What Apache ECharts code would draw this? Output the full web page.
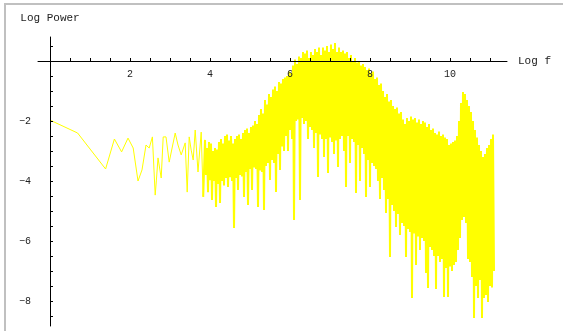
<!DOCTYPE html>
<html>
<head>
<meta charset="utf-8">
<script src="https://cdn.jsdelivr.net/npm/echarts@6/dist/echarts.min.js"></script>
<style>
  html, body { margin: 0; padding: 0; background: #fff; }
  #main { width: 563px; height: 331px; }
</style>
</head>
<body>
<div id="main"></div>
<script>
// low frequencies: one point per bin (log f, log power)
var sparseLogF = [0, 0.69, 1.39, 1.61, 1.79, 1.95, 2.08, 2.2, 2.3, 2.4, 2.48, 2.56, 2.63, 2.66, 2.7,
    2.78, 2.83, 2.9, 2.98, 3.13, 3.2, 3.28, 3.38, 3.43, 3.48, 3.53, 3.58, 3.63, 3.7, 3.78, 3.83];
var sparsePower = [-1.97, -2.4, -3.6, -2.6, -3.03, -2.57, -2.9, -4.0, -3.63, -2.8, -2.9, -2.53, -4.47, -3.97, -3.23,
    -3.9, -2.53, -2.53, -3.37, -2.4, -2.8, -3.13, -2.73, -4.37, -2.53, -2.97, -3.3, -2.3, -3.7, -2.37, -4.53];

// high frequencies: dense part on a regular log f grid
var denseStart = 3.875;
var denseStep = 0.025;
var densePower = [
    -2.63, -3.8, -2.9, -4.37, -2.7, -3.97, -2.75, -4.63, -3.0, -4.0,
    -2.9, -4.87, -2.95, -4.1, -2.7, -4.73, -2.6, -4.0, -2.75, -4.15,
    -2.5, -3.9, -2.45, -4.2, -2.65, -3.87, -2.5, -4.0, -2.75, -5.57,
    -2.6, -3.9, -2.5, -4.3, -2.45, -3.8, -2.6, -3.85, -2.4, -4.53,
    -2.3, -3.7, -2.25, -4.8, -2.4, -3.6, -2.2, -4.3, -2.15, -3.55,
    -2.0, -3.6, -2.1, -4.87, -1.8, -3.65, -1.6, -3.7, -1.75, -4.97,
    -1.3, -3.5, -1.45, -3.4, -1.1, -3.97, -1.2, -3.3, -0.95, -3.4,
    -0.85, -4.37, -1.0, -3.1, -0.7, -3.63, -0.75, -2.85, -0.6, -3.0,
    -0.55, -2.5, -0.5, -3.0, -0.35, -2.3, -0.4, -2.6, -0.15, -5.3,
    0.05, -2.0, -0.1, -1.95, 0.15, -4.63, 0.1, -1.9, 0.3, -2.1,
    0.25, -2.0, 0.35, -2.6, 0.1, -2.2, 0.3, -2.3, 0.2, -2.9,
    0.4, -2.4, 0.3, -3.87, 0.45, -2.45, 0.2, -2.6, 0.45, -3.2,
    0.35, -2.6, 0.5, -3.73, 0.3, -2.55, 0.55, -2.7, 0.4, -3.1,
    0.6, -2.65, 0.3, -3.53, 0.45, -2.6, 0.3, -2.5, 0.35, -3.0,
    0.25, -4.2, 0.3, -2.5, 0.1, -3.4, 0.2, -2.6, 0.0, -2.7,
    0.1, -4.4, -0.05, -2.8, 0.0, -4.0, -0.15, -2.9, -0.1, -3.1,
    -0.2, -4.53, -0.3, -3.3, -0.25, -4.2, -0.4, -3.4, -0.35, -3.5,
    -0.6, -3.6, -0.55, -4.0, -0.8, -4.6, -0.75, -3.9, -1.0, -4.3,
    -1.2, -5.07, -1.1, -4.6, -1.35, -6.53, -1.3, -4.8, -1.5, -5.0,
    -1.6, -5.53, -1.55, -5.1, -1.75, -5.8, -1.7, -5.4, -1.95, -5.5,
    -2.1, -6.53, -1.9, -5.6, -2.0, -5.7, -1.85, -7.9, -1.95, -5.75,
    -1.9, -6.8, -2.05, -5.85, -1.95, -6.3, -2.1, -5.9, -2.0, -6.0,
    -2.05, -7.07, -2.2, -7.57, -2.1, -6.2, -2.3, -6.3, -2.25, -6.5,
    -2.4, -7.6, -2.45, -6.5, -2.35, -6.7, -2.5, -6.6, -2.45, -7.87,
    -2.55, -6.9, -2.6, -7.87, -2.8, -6.85, -2.75, -7.0, -2.7, -6.8,
    -2.65, -6.7, -2.5, -6.3, -2.0, -5.9, -1.4, -5.3, -1.03, -5.2,
    -1.1, -5.4, -1.3, -6.6, -1.5, -6.7, -1.7, -7.2, -2.0, -8.57,
    -2.3, -7.5, -2.55, -7.9, -2.8, -7.3, -3.0, -8.57, -3.2, -7.9,
    -3.1, -7.8, -2.9, -8.03, -2.8, -7.5, -2.6, -7.55, -2.45, -7.0
];

var xTicks = [0.5, 1, 1.5, 2, 2.5, 3, 3.5, 4, 4.5, 5, 5.5, 6, 6.5, 7, 7.5, 8, 8.5, 9, 9.5, 10, 10.5, 11];
var xTickLabels = [2, 4, 6, 8, 10];
var yTicks = [-8.5, -8, -7.5, -7, -6.5, -6, -5.5, -5, -4.5, -4, -3.5, -3, -2.5, -2, -1.5, -1, -0.5, 0.5];
var yTickLabels = [-8, -6, -4, -2];

var sparsePoints = [];
for (var i = 0; i < sparseLogF.length; i++) {
    sparsePoints.push([sparseLogF[i], sparsePower[i]]);
}
// dense part starts from the last sparse point so the line stays joined
var densePoints = [sparsePoints[sparsePoints.length - 1]];
for (var j = 0; j < densePower.length; j++) {
    densePoints.push([+(denseStart + j * denseStep).toFixed(3), densePower[j]]);
}

var chart = echarts.init(document.getElementById('main'));

var monoFont = '"Liberation Mono", "DejaVu Sans Mono", monospace';
var xMin = -0.3, xMax = 11.425, yMin = -8.833, yMax = 0.8;

var option = {
    animation: false,
    backgroundColor: '#fff',
    grid: {left: 38, right: 56, top: 37, bottom: 5, containLabel: false},
    xAxis: [{
        type: 'value', min: xMin, max: xMax, z: 5,
        name: 'Log f', nameLocation: 'end', nameGap: 11,
        nameTextStyle: {fontFamily: monoFont, fontSize: 11, color: '#222', align: 'left', verticalAlign: 'middle'},
        axisLine: {show: true, onZero: true, lineStyle: {color: '#000', width: 1}},
        axisTick: {show: true, inside: true, length: 3, customValues: xTicks, lineStyle: {color: '#000'}},
        axisLabel: {show: false},
        splitLine: {show: false}
    }, {
        // carries only the tick labels, lifted from the grid bottom up to the zero line
        type: 'value', min: xMin, max: xMax, z: 5,
        position: 'bottom', offset: -265,
        axisLine: {show: false, onZero: false},
        axisTick: {show: false},
        axisLabel: {show: true, margin: 8, customValues: xTickLabels, fontFamily: monoFont, fontSize: 10, color: '#222'},
        splitLine: {show: false}
    }],
    yAxis: {
        type: 'value', min: yMin, max: yMax, z: 5,
        name: 'Log Power', nameLocation: 'end', nameGap: 13,
        nameTextStyle: {fontFamily: monoFont, fontSize: 11, color: '#222'},
        axisLine: {show: true, onZero: true, lineStyle: {color: '#000', width: 1}},
        axisTick: {show: true, inside: true, length: 3, customValues: yTicks, lineStyle: {color: '#000'}},
        axisLabel: {
            show: true, margin: 7, customValues: yTickLabels, fontFamily: monoFont, fontSize: 10, color: '#222',
            formatter: function (v) { return String(v).replace('-', '\u2212'); }
        },
        splitLine: {show: false}
    },
    graphic: [
        {type: 'line', shape: {x1: 5, y1: 3, x2: 5, y2: 331}, style: {stroke: '#c0c0c0', lineWidth: 2}, silent: true},
        {type: 'line', shape: {x1: 4, y1: 4, x2: 563, y2: 4}, style: {stroke: '#c0c0c0', lineWidth: 2}, silent: true}
    ],
    series: [{
        type: 'line',
        data: sparsePoints,
        showSymbol: false,
        symbol: 'none',
        z: 2,
        lineStyle: {color: '#ffff00', width: 1},
        silent: true
    }, {
        type: 'line',
        data: densePoints,
        showSymbol: false,
        symbol: 'none',
        z: 2,
        lineStyle: {color: '#ffff00', width: 2},
        silent: true
    }]
};

chart.setOption(option);
</script>
</body>
</html>
